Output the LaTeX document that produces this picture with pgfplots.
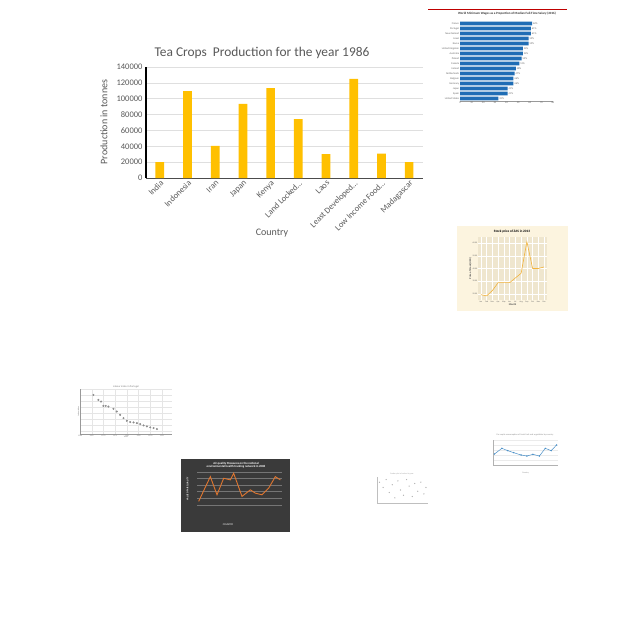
\documentclass[border=0pt]{standalone}
\usepackage{pgfplots}
\pgfplotsset{compat=1.18}
\usepackage{fontspec}
\setmainfont{Carlito}
\definecolor{gold}{HTML}{FFC000}
\definecolor{tickgray}{HTML}{595959}
\definecolor{wageblue}{HTML}{1F6DB5}
\definecolor{beige}{HTML}{FCF4DF}
\definecolor{beigein}{HTML}{EFE6CE}
\definecolor{stockline}{HTML}{F2B33D}
\definecolor{darkbg}{HTML}{3A3A3A}
\definecolor{airline}{HTML}{E0762F}
\definecolor{lineblue}{HTML}{4A90C8}
\begin{document}
\begin{tikzpicture}[x=1pt,y=1pt]
\path[use as bounding box, fill=white] (0,0) rectangle (640,-640);

% ---------------- main chart ----------------
\node[font=\fontsize{13.4}{16}\selectfont, text=tickgray] at (262,-53) {Tea Crops\ \ Production for the year 1986};
\begin{axis}[at={(146pt,-178pt)}, anchor=south west, scale only axis,
  width=277pt, height=111pt,
  ybar, bar width=8.7pt,
  xmin=-0.5, xmax=9.5, ymin=0, ymax=140000,
  ytick={0,20000,...,140000},
  xtick={0,...,9},
  xticklabels={India,Indonesia,Iran,Japan,Kenya,Land Locked…,Laos,Least Developed…,Low Income Food…,Madagascar},
  x tick label style={rotate=45, anchor=north east, font=\fontsize{8.5}{9}\selectfont, text=tickgray, inner sep=1pt},
  y tick label style={font=\fontsize{8.5}{9}\selectfont, text=tickgray},
  scaled y ticks=false,
  yticklabel style={/pgf/number format/fixed, /pgf/number format/precision=0, /pgf/number format/1000 sep={}},
  /pgf/number format/assume math mode=true,
  major tick length=0pt,
  ymajorgrids, grid style={color=gray!25, line width=0.5pt},
  axis x line*=bottom, axis y line*=left,
  y axis line style={black, line width=1.2pt},
  x axis line style={black!70, line width=0.8pt},
  xlabel={Country}, ylabel={Production in tonnes},
  xlabel style={at={(axis description cs:0.455,-0.495)}, anchor=center, font=\fontsize{10}{12}\selectfont, text=tickgray},
  ylabel style={at={(axis description cs:-0.152,0.505)}, anchor=center, font=\fontsize{10}{12}\selectfont, text=tickgray},
]
\addplot[fill=gold, draw=none] coordinates {
(0,20000) (1,109500) (2,40500) (3,93600) (4,113300) (5,74400) (6,30100) (7,125000) (8,30900) (9,20000)};
\end{axis}

% ---------------- thumbnail: minimum wages ----------------
\draw[red!75!black, line width=0.6pt] (428,-9) -- (567,-9);
\node[font=\fontsize{3.2}{3.5}\selectfont\bfseries, text=black!80] at (507,-14) {World Minimum Wages as a Proportion of Median Full-Time Salary (2016)};
\begin{axis}[at={(460pt,-101pt)}, anchor=south west, scale only axis,
  width=93pt, height=80pt,
  xbar, bar width=3.6pt, y dir=reverse,
  xmin=0, xmax=80, ymin=0.5, ymax=16.5,
  xtick={0,10,...,80}, ytick={1,...,16},
  yticklabels={France,Portugal,New Zealand,Israel,Korea,United Kingdom,Australia,Poland,Canada,Ireland,Netherlands,Belgium,Germany,Japan,Spain,United States},
  tick label style={font=\fontsize{2.6}{3}\selectfont, text=black!60, inner sep=0.8pt},
  /pgf/number format/assume math mode=true,
  major tick length=0pt,
  axis x line*=bottom, axis y line*=left,
  x axis line style={black!40, line width=0.3pt}, y axis line style={draw=none},
  nodes near coords={\pgfmathprintnumber[fixed,precision=0]{\pgfplotspointmeta}\%},
  point meta=x,
  nodes near coords style={font=\fontsize{2.6}{3}\selectfont, text=black!60, inner sep=0.8pt},
]
\addplot[fill=wageblue, draw=none] coordinates {
(62,1) (61,2) (61,3) (59,4) (59,5) (54,6) (54,7) (53,8) (51,9) (48,10) (47,11) (46,12) (46,13) (41,14) (41,15) (33,16)};
\end{axis}

% ---------------- thumbnail: stock price ----------------
\fill[beige] (457,-226) rectangle (568,-311);
\node[font=\fontsize{3.4}{4}\selectfont\bfseries] at (512,-232) {Stock price of ZAS in 2013};
\begin{axis}[at={(478pt,-300pt)}, anchor=south west, scale only axis,
  width=69pt, height=63pt,
  axis background/.style={fill=beigein},
  xmin=0.5, xmax=12.5, ymin=0, ymax=200,
  xtick={1,...,12}, xticklabels={Jan,Feb,Mar,Apr,May,Jun,Jul,Aug,Sep,Oct,Nov,Dec},
  ytick={20,60,100,140,180}, yticklabels={20.00,30.00,40.00,50.00,60.00},
  tick label style={font=\fontsize{2}{2.4}\selectfont, text=black!60, inner sep=0.6pt},
  major tick length=0pt,
  grid=both, grid style={white, line width=0.3pt},
  axis line style={draw=none},
  xlabel={Month}, ylabel={Price of Stock (USD)},
  label style={font=\fontsize{2.6}{3}\selectfont\bfseries, text=black!70},
  xlabel style={yshift=3pt}, ylabel style={yshift=-3pt},
]
\addplot[stockline, line width=0.6pt] coordinates {
(1,17) (2,13) (3,30) (4,55) (5,55) (6,55) (7,70) (8,85) (9,185) (10,100) (11,100) (12,105)};
\end{axis}

% ---------------- thumbnail: labour index ----------------
\node[font=\fontsize{2.6}{3}\selectfont, text=black!50] at (126,-387) {Labour index in Portugal};
\begin{axis}[at={(80pt,-434pt)}, anchor=south west, scale only axis,
  width=92pt, height=45pt,
  xmin=45, xmax=320, ymin=12, ymax=148, y dir=reverse,
  xtick={45,80,115,150,185,220,255,290}, xticklabels={1960,1965,1970,1975,1980,1985,1990,1995},
  ytick={12,30,48,66,84,102,120,138}, yticklabels={},
  tick label style={font=\fontsize{2}{2.4}\selectfont, text=black!50, inner sep=0.6pt},
  major tick length=0pt,
  grid=major, grid style={black!10, line width=0.3pt},
  axis x line*=bottom, axis y line*=left, axis line style={black!40, line width=0.3pt},
  xlabel={Years}, ylabel={Labour index},
  label style={font=\fontsize{2}{2.4}\selectfont, text=black!50},
  xlabel style={yshift=4pt}, ylabel style={yshift=-4pt},
]
\addplot[only marks, mark=*, mark size=0.8pt, black!45] coordinates {
(85,30) (100,45) (108,50) (115,63) (122,63) (130,65) (145,72) (155,80) (165,90) (175,100) (185,108) (195,112) (205,113) (215,115) (225,118) (235,122) (245,125) (255,128) (265,130) (275,133)};
\end{axis}

% ---------------- thumbnail: air quality ----------------
\fill[darkbg] (181,-459) rectangle (290,-532);
\node[font=\fontsize{3}{3.4}\selectfont\bfseries, text=white, align=center] at (236,-465) {Air quality Measures on the national\\environmental health tracking network in 2008};
\node[font=\fontsize{2.6}{3}\selectfont, text=white] at (228,-525) {COUNTRY};
\begin{axis}[at={(197pt,-508pt)}, anchor=south west, scale only axis,
  width=85pt, height=38pt,
  xmin=50, xmax=305, ymin=45, ymax=160, y dir=reverse,
  xtick=\empty, ytick={50,70,90,110,130,150}, yticklabels={},
  major tick length=0pt,
  ymajorgrids, grid style={white!30!darkbg, line width=0.3pt},
  axis line style={draw=none},
  ylabel={VALUE OF AIR QUALITY}, ylabel style={font=\fontsize{2.4}{3}\selectfont\bfseries, text=white, yshift=-2pt},
]
\addplot[airline, line width=0.9pt] coordinates {
(55,140) (90,65) (110,120) (130,70) (150,75) (160,55) (185,125) (210,105) (225,115) (245,120) (265,100) (285,65) (300,75)};
\end{axis}

% ---------------- thumbnail: faint scatter ----------------
\node[font=\fontsize{2}{2.4}\selectfont, text=black!35] at (402,-474) {Scatter plot of values by year};
\begin{axis}[at={(377pt,-503pt)}, anchor=south west, scale only axis,
  width=51pt, height=26pt,
  xmin=0, xmax=10, ymin=0, ymax=10,
  xtick=\empty, ytick=\empty,
  axis x line*=bottom, axis y line*=left, axis line style={black!25, line width=0.3pt},
]
\addplot[only marks, mark=*, mark size=0.35pt, black!30] coordinates {
(0.5,8) (1.2,6) (1.8,9) (2.4,4) (3.0,7) (3.5,2) (4.1,8.5) (4.6,5) (5.2,3) (5.8,9) (6.3,6.5) (6.9,2.5) (7.4,7.5) (8.0,4.5) (8.6,8) (9.2,3.5) (9.6,6)};
\end{axis}

% ---------------- thumbnail: blue line ----------------
\node[font=\fontsize{2.2}{2.6}\selectfont, text=black!45] at (525,-435) {Per capita consumption of fresh fruit and vegetables by country};
\begin{axis}[at={(493pt,-465pt)}, anchor=south west, scale only axis,
  width=65pt, height=25pt,
  xmin=55, xmax=275, ymin=30, ymax=105, y dir=reverse,
  xtick=\empty, ytick={30,45,60,75,90,105}, yticklabels={},
  major tick length=0pt,
  ymajorgrids, grid style={black!8, line width=0.3pt},
  axis x line*=bottom, axis y line*=left, axis line style={black!30, line width=0.3pt},
  xlabel={Country}, xlabel style={font=\fontsize{2}{2.4}\selectfont, text=black!45, yshift=-4pt},
]
\addplot[lineblue, line width=0.5pt, mark=*, mark size=0.4pt] coordinates {
(60,72) (85,55) (105,62) (125,68) (150,75) (170,78) (190,73) (212,78) (232,55) (252,62) (270,45)};
\end{axis}
\end{tikzpicture}
\end{document}
